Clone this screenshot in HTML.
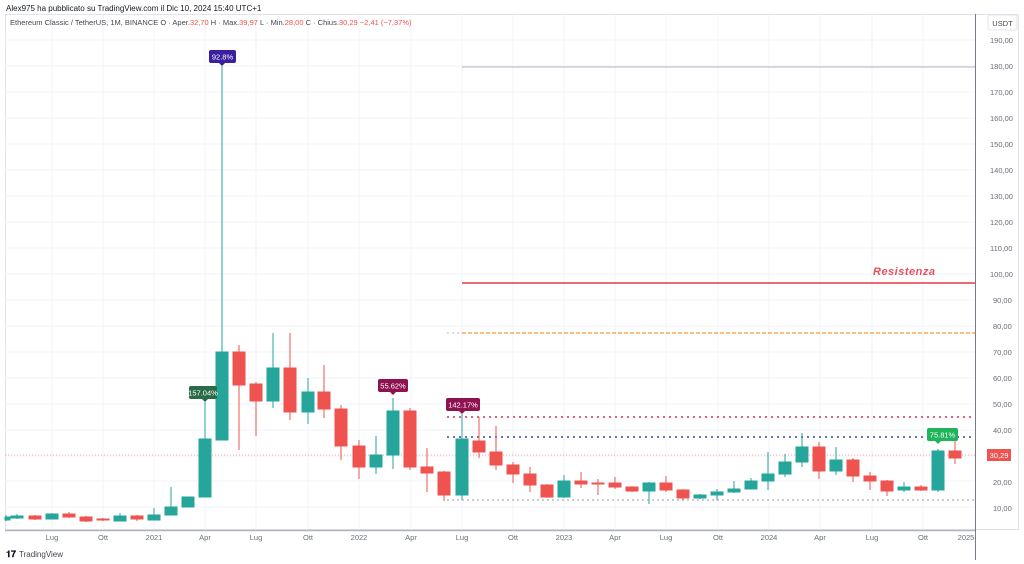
<!DOCTYPE html>
<html><head><meta charset="utf-8"><style>
body{margin:0;background:#fff;}
svg{display:block;font-family:"Liberation Sans",sans-serif;}
</style></head><body>
<svg width="1024" height="564" viewBox="0 0 1024 564" xmlns="http://www.w3.org/2000/svg">
<rect width="1024" height="564" fill="#fff"/>
<text x="6" y="11" font-size="8" fill="#131722">Alex975 ha pubblicato su TradingView.com il Dic 10, 2024 15:40 UTC+1</text>
<rect x="5.5" y="14.5" width="1013" height="515" fill="none" stroke="#e0e3eb"/>
<!-- grid -->
<g stroke="#f0f3fa" stroke-width="1">
<line x1="5" x2="975" y1="40" y2="40"/><line x1="5" x2="975" y1="66" y2="66"/><line x1="5" x2="975" y1="92" y2="92"/><line x1="5" x2="975" y1="118" y2="118"/><line x1="5" x2="975" y1="144" y2="144"/><line x1="5" x2="975" y1="170" y2="170"/><line x1="5" x2="975" y1="196" y2="196"/><line x1="5" x2="975" y1="222" y2="222"/><line x1="5" x2="975" y1="248" y2="248"/><line x1="5" x2="975" y1="274" y2="274"/><line x1="5" x2="975" y1="300" y2="300"/><line x1="5" x2="975" y1="326" y2="326"/><line x1="5" x2="975" y1="352" y2="352"/><line x1="5" x2="975" y1="378" y2="378"/><line x1="5" x2="975" y1="404" y2="404"/><line x1="5" x2="975" y1="430" y2="430"/><line x1="5" x2="975" y1="456" y2="456"/><line x1="5" x2="975" y1="481" y2="481"/><line x1="5" x2="975" y1="507" y2="507"/>
<line x1="52" x2="52" y1="15" y2="530"/><line x1="103" x2="103" y1="15" y2="530"/><line x1="154" x2="154" y1="15" y2="530"/><line x1="205" x2="205" y1="15" y2="530"/><line x1="256" x2="256" y1="15" y2="530"/><line x1="308" x2="308" y1="15" y2="530"/><line x1="359" x2="359" y1="15" y2="530"/><line x1="411" x2="411" y1="15" y2="530"/><line x1="462" x2="462" y1="15" y2="530"/><line x1="513" x2="513" y1="15" y2="530"/><line x1="564" x2="564" y1="15" y2="530"/><line x1="615" x2="615" y1="15" y2="530"/><line x1="666" x2="666" y1="15" y2="530"/><line x1="718" x2="718" y1="15" y2="530"/><line x1="769" x2="769" y1="15" y2="530"/><line x1="820" x2="820" y1="15" y2="530"/><line x1="872" x2="872" y1="15" y2="530"/><line x1="923" x2="923" y1="15" y2="530"/>
</g>
<text x="10" y="25" font-size="7.5" fill="#434651">Ethereum Classic / TetherUS, 1M, BINANCE  O · Aper.<tspan fill="#ef5350">32,70</tspan>  H · Max.<tspan fill="#ef5350">39,97</tspan>  L · Min.<tspan fill="#ef5350">28,00</tspan>  C · Chius.<tspan fill="#ef5350">30,29  −2,41 (−7,37%)</tspan></text>
<!-- drawing lines -->
<line x1="462" x2="975" y1="67" y2="67" stroke="#b2b5be" stroke-width="1"/>
<line x1="462" x2="975" y1="283" y2="283" stroke="#e53945" stroke-width="1.5"/>
<text x="873" y="275" font-size="11" font-weight="bold" font-style="italic" fill="#e8505b" letter-spacing="0.5">Resistenza</text>
<line x1="447" x2="462" y1="333" y2="333" stroke="#b2b5be" stroke-dasharray="2,3"/>
<line x1="462" x2="975" y1="333" y2="333" stroke="#f57c00" stroke-width="1" stroke-dasharray="4,2"/>
<line x1="447" x2="975" y1="417" y2="417" stroke="#d32f4f" stroke-width="1.6" stroke-dasharray="2,4"/>
<line x1="447" x2="975" y1="437" y2="437" stroke="#2a4a9e" stroke-width="1.6" stroke-dasharray="2,4"/>
<line x1="447" x2="975" y1="500" y2="500" stroke="#9598a1" stroke-width="1" stroke-dasharray="2,3"/>
<line x1="5" x2="975" y1="455" y2="455" stroke="#ef5350" stroke-width="0.8" stroke-dasharray="1,2" opacity="0.7"/>
<!-- green candles -->
<g stroke="#26a69a" fill="#26a69a">
<line x1="6" x2="6" y1="515" y2="521"/><rect x="5" y="517" width="5" height="3"/>
<line x1="17" x2="17" y1="514" y2="519"/><rect x="11" y="516" width="12" height="2"/>
<line x1="52" x2="52" y1="513" y2="519"/><rect x="46" y="514" width="12" height="5"/>
<line x1="120" x2="120" y1="513" y2="521"/><rect x="114" y="516" width="12" height="5"/>
<line x1="154" x2="154" y1="508" y2="520"/><rect x="148" y="515" width="12" height="5"/>
<line x1="171" x2="171" y1="487" y2="515"/><rect x="165" y="507" width="12" height="8"/>
<line x1="188" x2="188" y1="497" y2="507"/><rect x="182" y="497" width="12" height="10"/>
<line x1="205" x2="205" y1="402" y2="497"/><rect x="199" y="439" width="12" height="58"/>
<line x1="222" x2="222" y1="66" y2="440"/><rect x="216" y="352" width="12" height="88"/>
<line x1="273" x2="273" y1="333" y2="408"/><rect x="267" y="368" width="12" height="33"/>
<line x1="308" x2="308" y1="378" y2="424"/><rect x="302" y="392" width="12" height="20"/>
<line x1="376" x2="376" y1="436" y2="474"/><rect x="370" y="455" width="12" height="12"/>
<line x1="393" x2="393" y1="398" y2="469"/><rect x="387" y="411" width="12" height="44"/>
<line x1="462" x2="462" y1="414" y2="500"/><rect x="456" y="439" width="12" height="56"/>
<line x1="564" x2="564" y1="475" y2="498"/><rect x="558" y="481" width="12" height="16"/>
<line x1="649" x2="649" y1="482" y2="504"/><rect x="643" y="483" width="12" height="8"/>
<line x1="700" x2="700" y1="494" y2="499"/><rect x="694" y="495" width="12" height="3"/>
<line x1="717" x2="717" y1="489" y2="500"/><rect x="711" y="492" width="12" height="3"/>
<line x1="734" x2="734" y1="481" y2="493"/><rect x="728" y="489" width="12" height="3"/>
<line x1="751" x2="751" y1="478" y2="489"/><rect x="745" y="481" width="12" height="8"/>
<line x1="768" x2="768" y1="452" y2="490"/><rect x="762" y="474" width="12" height="7"/>
<line x1="785" x2="785" y1="454" y2="477"/><rect x="779" y="462" width="12" height="12"/>
<line x1="802" x2="802" y1="433" y2="467"/><rect x="796" y="447" width="12" height="15"/>
<line x1="836" x2="836" y1="447" y2="475"/><rect x="830" y="460" width="12" height="11"/>
<line x1="904" x2="904" y1="482" y2="492"/><rect x="898" y="487" width="12" height="3"/>
<line x1="938" x2="938" y1="449" y2="492"/><rect x="932" y="451" width="12" height="39"/>
</g>
<!-- red candles -->
<g stroke="#ef5350" fill="#ef5350">
<line x1="35" x2="35" y1="515" y2="520"/><rect x="29" y="516" width="12" height="3"/>
<line x1="69" x2="69" y1="512" y2="518"/><rect x="63" y="514" width="12" height="3"/>
<line x1="86" x2="86" y1="516" y2="522"/><rect x="80" y="517" width="12" height="4"/>
<line x1="103" x2="103" y1="518" y2="521"/><rect x="97" y="519" width="12" height="1"/>
<line x1="137" x2="137" y1="515" y2="521"/><rect x="131" y="516" width="12" height="3"/>
<line x1="239" x2="239" y1="345" y2="450"/><rect x="233" y="352" width="12" height="33"/>
<line x1="256" x2="256" y1="382" y2="436"/><rect x="250" y="384" width="12" height="17"/>
<line x1="290" x2="290" y1="333" y2="420"/><rect x="284" y="368" width="12" height="44"/>
<line x1="324" x2="324" y1="365" y2="418"/><rect x="318" y="392" width="12" height="17"/>
<line x1="341" x2="341" y1="405" y2="460"/><rect x="335" y="409" width="12" height="37"/>
<line x1="359" x2="359" y1="440" y2="479"/><rect x="353" y="446" width="12" height="21"/>
<line x1="410" x2="410" y1="408" y2="470"/><rect x="404" y="411" width="12" height="56"/>
<line x1="427" x2="427" y1="448" y2="492"/><rect x="421" y="467" width="12" height="6"/>
<line x1="444" x2="444" y1="471" y2="501"/><rect x="438" y="472" width="12" height="23"/>
<line x1="479" x2="479" y1="417" y2="458"/><rect x="473" y="441" width="12" height="11"/>
<line x1="496" x2="496" y1="426" y2="470"/><rect x="490" y="452" width="12" height="13"/>
<line x1="513" x2="513" y1="462" y2="483"/><rect x="507" y="465" width="12" height="9"/>
<line x1="530" x2="530" y1="467" y2="492"/><rect x="524" y="474" width="12" height="11"/>
<line x1="547" x2="547" y1="484" y2="498"/><rect x="541" y="485" width="12" height="12"/>
<line x1="581" x2="581" y1="472" y2="488"/><rect x="575" y="481" width="12" height="3"/>
<line x1="598" x2="598" y1="479" y2="495"/><rect x="592" y="483" width="12" height="1"/>
<line x1="615" x2="615" y1="477" y2="489"/><rect x="609" y="483" width="12" height="4"/>
<line x1="632" x2="632" y1="486" y2="492"/><rect x="626" y="487" width="12" height="4"/>
<line x1="666" x2="666" y1="476" y2="492"/><rect x="660" y="483" width="12" height="7"/>
<line x1="683" x2="683" y1="489" y2="500"/><rect x="677" y="490" width="12" height="8"/>
<line x1="819" x2="819" y1="442" y2="479"/><rect x="813" y="447" width="12" height="24"/>
<line x1="853" x2="853" y1="458" y2="482"/><rect x="847" y="460" width="12" height="16"/>
<line x1="870" x2="870" y1="472" y2="490"/><rect x="864" y="476" width="12" height="5"/>
<line x1="887" x2="887" y1="480" y2="496"/><rect x="881" y="481" width="12" height="10"/>
<line x1="921" x2="921" y1="485" y2="491"/><rect x="915" y="487" width="12" height="3"/>
<line x1="955" x2="955" y1="432" y2="464"/><rect x="949" y="451" width="12" height="7"/>
</g>
<!-- labels -->
<g font-size="7.5" fill="#fff" text-anchor="middle">
<rect x="209" y="50" width="27" height="13" rx="2" fill="#3a1fa0"/><path d="M219 63 L222 66 L225 63Z" fill="#3a1fa0"/><text x="222.5" y="59.5">92.8%</text>
<rect x="189" y="386" width="28" height="13" rx="2" fill="#2a6a47"/><path d="M202 399 L205 402 L208 399Z" fill="#2a6a47"/><text x="203" y="395.5">157.04%</text>
<rect x="378" y="379" width="30" height="13" rx="2" fill="#8e1150"/><path d="M390 392 L393 395 L396 392Z" fill="#8e1150"/><text x="393" y="388.5">55.62%</text>
<rect x="446" y="398" width="34" height="13" rx="2" fill="#8e1150"/><path d="M459 411 L462 414 L465 411Z" fill="#8e1150"/><text x="463" y="407.5">142.17%</text>
<rect x="927" y="428" width="31" height="13" rx="2" fill="#1fb35a"/><path d="M935 441 L938 444 L941 441Z" fill="#1fb35a"/><text x="942.5" y="437.5">75.81%</text>
</g>
<!-- axes -->
<line x1="975.5" x2="975.5" y1="14" y2="560" stroke="#787b86" stroke-width="1"/>
<line x1="5" x2="975" y1="530.5" y2="530.5" stroke="#b2b5be" stroke-width="1.5"/>
<rect x="988" y="15" width="29" height="15" rx="2" fill="#fff" stroke="#e0e3eb"/>
<text x="1002.5" y="26" font-size="7.5" fill="#434651" text-anchor="middle">USDT</text>
<g font-size="7.5" fill="#6a6d78" text-anchor="start">
<text x="990" y="43">190,00</text><text x="990" y="69">180,00</text><text x="990" y="95">170,00</text><text x="990" y="121">160,00</text><text x="990" y="147">150,00</text><text x="990" y="173">140,00</text><text x="990" y="199">130,00</text><text x="990" y="225">120,00</text><text x="990" y="251">110,00</text><text x="990" y="277">100,00</text><text x="993" y="303">90,00</text><text x="993" y="329">80,00</text><text x="993" y="355">70,00</text><text x="993" y="381">60,00</text><text x="993" y="407">50,00</text><text x="993" y="433">40,00</text><text x="993" y="485">20,00</text><text x="993" y="511">10,00</text>
</g>
<rect x="987" y="449" width="24" height="12" fill="#ef5350"/>
<text x="999" y="458" font-size="7.5" fill="#fff" text-anchor="middle">30,29</text>
<g font-size="7.5" fill="#6a6d78" text-anchor="middle">
<text x="52" y="540">Lug</text><text x="103" y="540">Ott</text><text x="154" y="540">2021</text><text x="205" y="540">Apr</text><text x="256" y="540">Lug</text><text x="308" y="540">Ott</text><text x="359" y="540">2022</text><text x="411" y="540">Apr</text><text x="462" y="540">Lug</text><text x="513" y="540">Ott</text><text x="564" y="540">2023</text><text x="615" y="540">Apr</text><text x="666" y="540">Lug</text><text x="718" y="540">Ott</text><text x="769" y="540">2024</text><text x="820" y="540">Apr</text><text x="872" y="540">Lug</text><text x="923" y="540">Ott</text><text x="966" y="540">2025</text>
</g>
<text x="6" y="557" font-size="9" font-weight="bold" fill="#131722">𝟏𝟕</text>
<text x="19" y="557" font-size="8" fill="#434651">TradingView</text>
</svg>
</body></html>
